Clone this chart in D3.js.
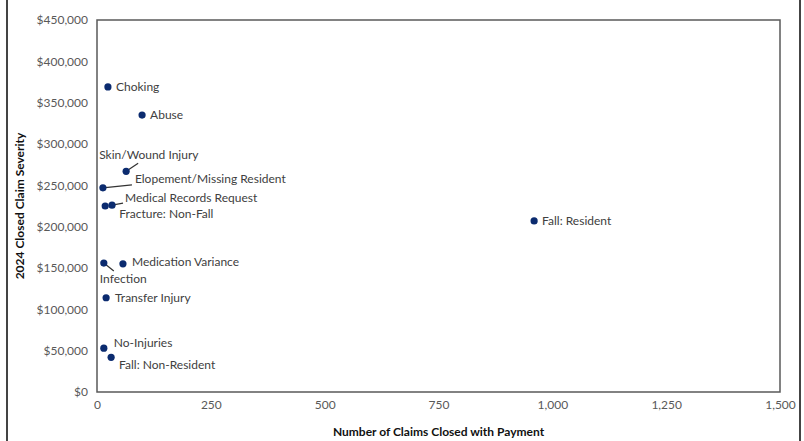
<!DOCTYPE html>
<html>
<head>
<meta charset="utf-8">
<script src="https://cdn.jsdelivr.net/npm/d3@7"></script>
<style>
  body { margin: 0; background: #fff; }
  text { font-family: Lato, "Open Sans", sans-serif; }
</style>
</head>
<body>
<script>
// data
var categories = ["Choking", "Abuse", "Skin/Wound Injury", "Elopement/Missing Resident",
  "Medical Records Request", "Fracture: Non-Fall", "Fall: Resident", "Infection",
  "Medication Variance", "Transfer Injury", "No-Injuries", "Fall: Non-Resident"];
var claimsClosed = [24, 99, 64, 13, 33, 18, 960, 15, 57, 20, 15, 31];
var severity = [369000, 335000, 267000, 247000, 226000, 225000, 207000, 156000, 155000, 114000, 53000, 42000];
var xTicks = [0, 250, 500, 750, 1000, 1250, 1500];
var yTicks = [0, 50000, 100000, 150000, 200000, 250000, 300000, 350000, 400000, 450000];

// label placement (pixels from the dot), leader end if any
var labelPlace = {
  "Choking": {dx: 8, dy: 0},
  "Abuse": {dx: 8, dy: 0},
  "Skin/Wound Injury": {dx: -27, dy: -16, lx: 12, ly: -8},
  "Elopement/Missing Resident": {dx: 32, dy: -9, lx: 29, ly: -3},
  "Medical Records Request": {dx: 13, dy: -7, lx: 11, ly: -2},
  "Fracture: Non-Fall": {dx: 14, dy: 8},
  "Fall: Resident": {dx: 8, dy: 0},
  "Infection": {dx: -4, dy: 16, lx: 10, ly: 8},
  "Medication Variance": {dx: 9, dy: -2},
  "Transfer Injury": {dx: 9, dy: 0},
  "No-Injuries": {dx: 10, dy: -5},
  "Fall: Non-Resident": {dx: 8, dy: 8}
};

var width = 804, height = 441;
var margin = {top: 20, right: 24, bottom: 49, left: 97};

var svg = d3.select("body").append("svg")
  .attr("width", width)
  .attr("height", height);

// outer frame (left & right edges only visible)
svg.append("line").attr("x1", 7).attr("x2", 7).attr("y1", 0).attr("y2", height)
  .attr("stroke", "#444").attr("stroke-width", 2);
svg.append("line").attr("x1", 800).attr("x2", 800).attr("y1", 0).attr("y2", height)
  .attr("stroke", "#444").attr("stroke-width", 2);

var x = d3.scaleLinear().domain([0, 1500]).range([margin.left, width - margin.right]);
var y = d3.scaleLinear().domain([0, 450000]).range([height - margin.bottom, margin.top]);

// plot box
svg.append("rect")
  .attr("x", x(0)).attr("y", y(450000))
  .attr("width", x(1500) - x(0)).attr("height", y(0) - y(450000))
  .attr("fill", "none").attr("stroke", "#595959").attr("stroke-width", 1.5);

var xAxis = svg.append("g")
  .attr("transform", `translate(0,${y(0)})`)
  .call(d3.axisBottom(x).tickValues(xTicks).tickSize(0).tickPadding(8).tickFormat(d3.format(",")));
var yAxis = svg.append("g")
  .attr("transform", `translate(${x(0)},0)`)
  .call(d3.axisLeft(y).tickValues(yTicks).tickSize(0).tickPadding(9).tickFormat(d => "$" + d3.format(",")(d)));
[xAxis, yAxis].forEach(function(g) {
  g.select(".domain").remove();
  g.selectAll("text").attr("fill", "#595959").style("font-size", "12px");
});

svg.append("text")
  .attr("x", (x(0) + x(1500)) / 2).attr("y", 436)
  .attr("text-anchor", "middle")
  .style("font-size", "12px").style("font-weight", "bold").attr("fill", "#111")
  .text("Number of Claims Closed with Payment");
svg.append("text")
  .attr("transform", `translate(24,${(y(0) + y(450000)) / 2}) rotate(-90)`)
  .attr("text-anchor", "middle")
  .style("font-size", "12px").style("font-weight", "bold").attr("fill", "#111")
  .text("2024 Closed Claim Severity");

var pts = categories.map((c, i) => ({name: c, n: claimsClosed[i], sev: severity[i]}));

// leader lines
svg.selectAll(".leader")
  .data(pts.filter(d => labelPlace[d.name].lx !== undefined))
  .enter().append("line")
  .attr("x1", d => x(d.n)).attr("y1", d => y(d.sev))
  .attr("x2", d => x(d.n) + labelPlace[d.name].lx)
  .attr("y2", d => y(d.sev) + labelPlace[d.name].ly)
  .attr("stroke", "#333").attr("stroke-width", 1.2);

svg.selectAll(".dot")
  .data(pts)
  .enter().append("circle")
  .attr("cx", d => x(d.n)).attr("cy", d => y(d.sev))
  .attr("r", 3.6).attr("fill", "#0b2b6f");

svg.selectAll(".lbl")
  .data(pts)
  .enter().append("text")
  .attr("x", d => x(d.n) + labelPlace[d.name].dx)
  .attr("y", d => y(d.sev) + labelPlace[d.name].dy)
  .attr("dy", "0.35em")
  .style("font-size", "12px").attr("fill", "#404040")
  .text(d => d.name);
</script>
</body>
</html>
